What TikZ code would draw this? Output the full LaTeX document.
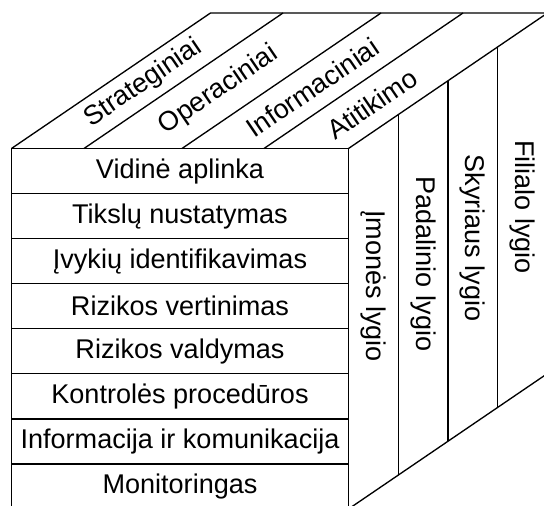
\documentclass[tikz,border=0pt]{standalone}
\usepackage{fontspec}
\setmainfont{Liberation Sans}

\begin{document}
\begin{tikzpicture}[x=0.75pt,y=0.75pt,z={(149.25pt,101.625pt)},line width=1pt,
  font=\fontsize{20.3}{24}\selectfont]
\useasboundingbox (-11.5,3) rectangle (532.5,509);
\clip (-11.5,3) rectangle (532.5,509);
% front face with the eight components
\draw (0,0) rectangle (337,360.5);
\foreach \i in {1,...,7}
  \draw (0,\i*45.0625)--(337,\i*45.0625);
\foreach \t [count=\i] in {Vidinė aplinka,Tikslų nustatymas,Įvykių identifikavimas,
  Rizikos vertinimas,Rizikos valdymas,Kontrolės procedūros,
  Informacija ir komunikacija,Monitoringas}
  \node (row\i) at (168.5,360.5-\i*45.0625+22.53) {\t};
% top face
\draw (0,360.5,0)--(0,360.5,1)--(337,360.5,1);
\draw (337,360.5,0)--(337,360.5,1);
\foreach \x in {72.5,170.5,252.5}
  \draw (\x,360.5,0)--(\x,360.5,1);
\node[rotate=34.25] (strat) at (36.25,360.5,.48) {Strateginiai};
\node[rotate=34.25] (oper) at (121.5,360.5,.43) {Operaciniai};
\node[rotate=34.25] (info) at (211.5,360.5,.45) {Informaciniai};
\node[rotate=34.25] (atit) at (294.75,360.5,.33) {Atitikimo};
% right face
\draw (337,0,0)--(337,0,1)--(337,360.5,1);
\foreach \z in {.25,.5,.75}
  \draw (337,0,\z)--(337,360.5,\z);
\node[rotate=-90] (imon) at (337,206,.125) {Įmonės lygio};
\node[rotate=-90] (padal) at (337,194.2,.375) {Padalinio lygio};
\node[rotate=-90] (skyr) at (337,186.3,.625) {Skyriaus lygio};
\node[rotate=-90] (fil) at (337,183.4,.875) {Filialo lygio};
\end{tikzpicture}
\end{document}
